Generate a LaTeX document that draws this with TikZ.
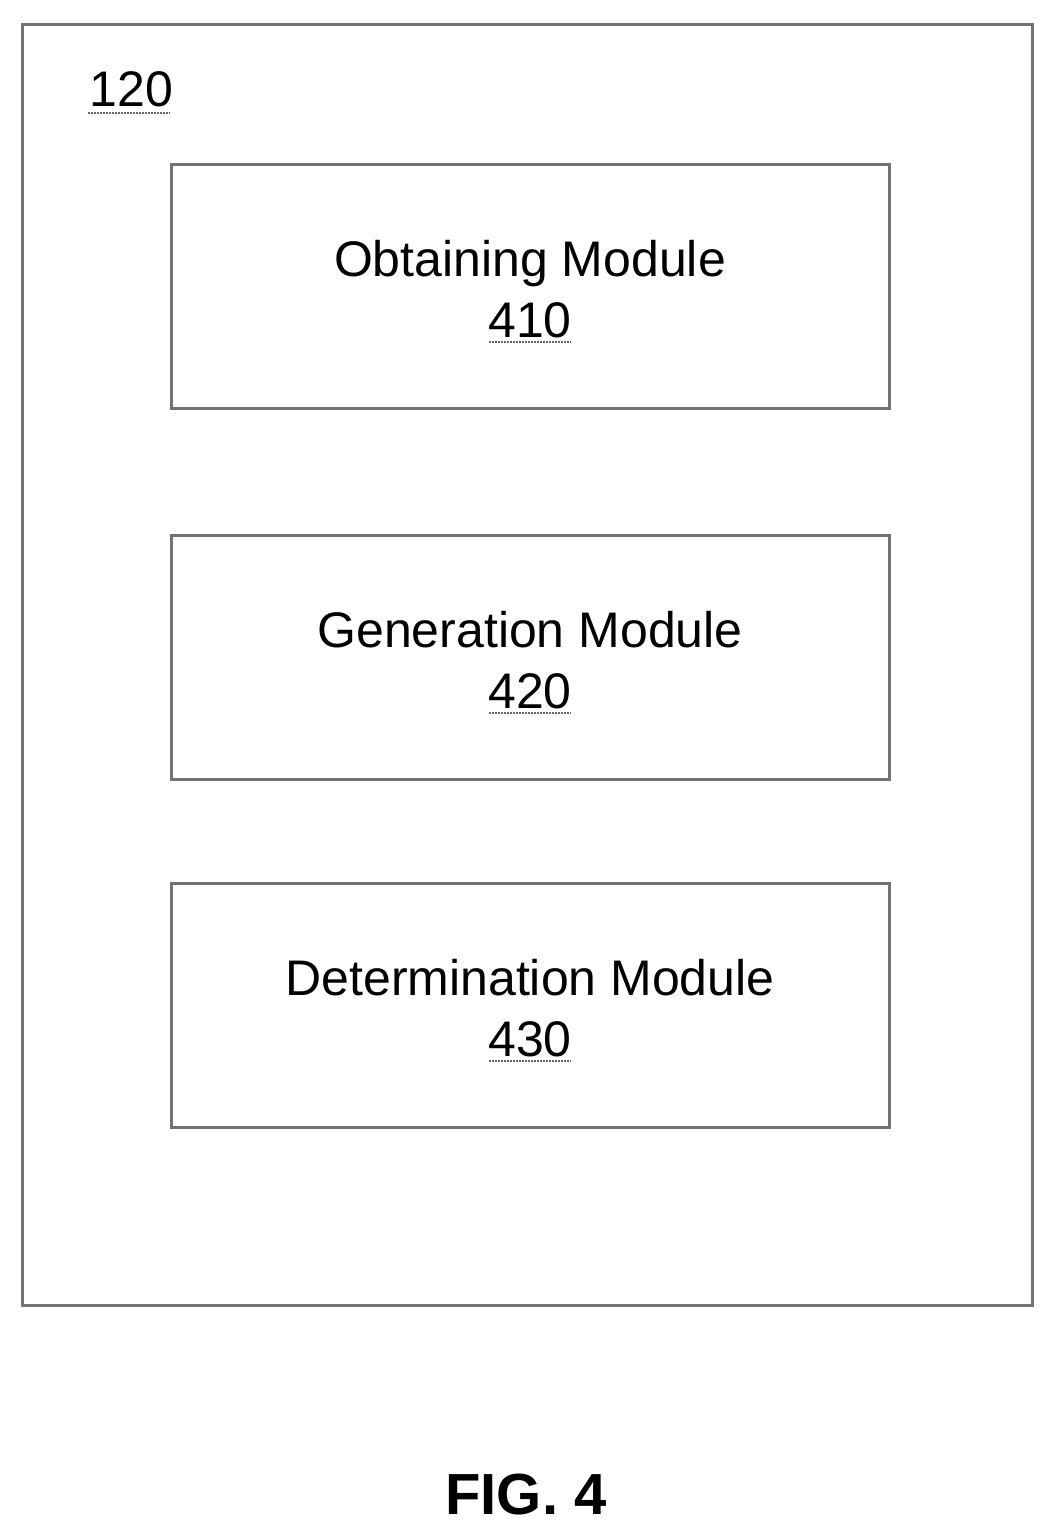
\documentclass[tikz,border=0pt]{standalone}
\usepackage{fontspec}
\setmainfont{Liberation Sans}
\begin{document}
\begin{tikzpicture}[x=1pt,y=-1pt,
  frame/.style={draw=black!55,line width=3pt},
  lbl/.style={font=\fontsize{50}{60}\selectfont,align=center},
  ul/.style={draw=black!60,line width=1.5pt,dash pattern=on 2pt off 1pt}]
\useasboundingbox (0,0) rectangle (1054,1536);
\node[frame,minimum width=1010,minimum height=1280,inner sep=0] (outer) at (527,665) {};
\node[lbl,anchor=base west] (n120) at (86,107) {120};
\draw[ul] (88,113) -- (170,113);
\foreach \n/\cy/\t/\num in {a/286/Obtaining Module/410, b/657/Generation Module/420, c/1005/Determination Module/430}{
  \node[frame,minimum width=718,minimum height=244,inner sep=0] (box\n) at (530,\cy) {};
  \node[lbl,anchor=base] (t\n) at (530,\cy-10) {\t};
  \node[lbl,anchor=base] (m\n) at (530,\cy+51) {\num};
  \draw[ul] (489,\cy+56) -- (571,\cy+56);
}
\node[font=\fontsize{58}{66}\selectfont\bfseries] (fig) at (526,1495) {FIG. 4};
\end{tikzpicture}
\end{document}
